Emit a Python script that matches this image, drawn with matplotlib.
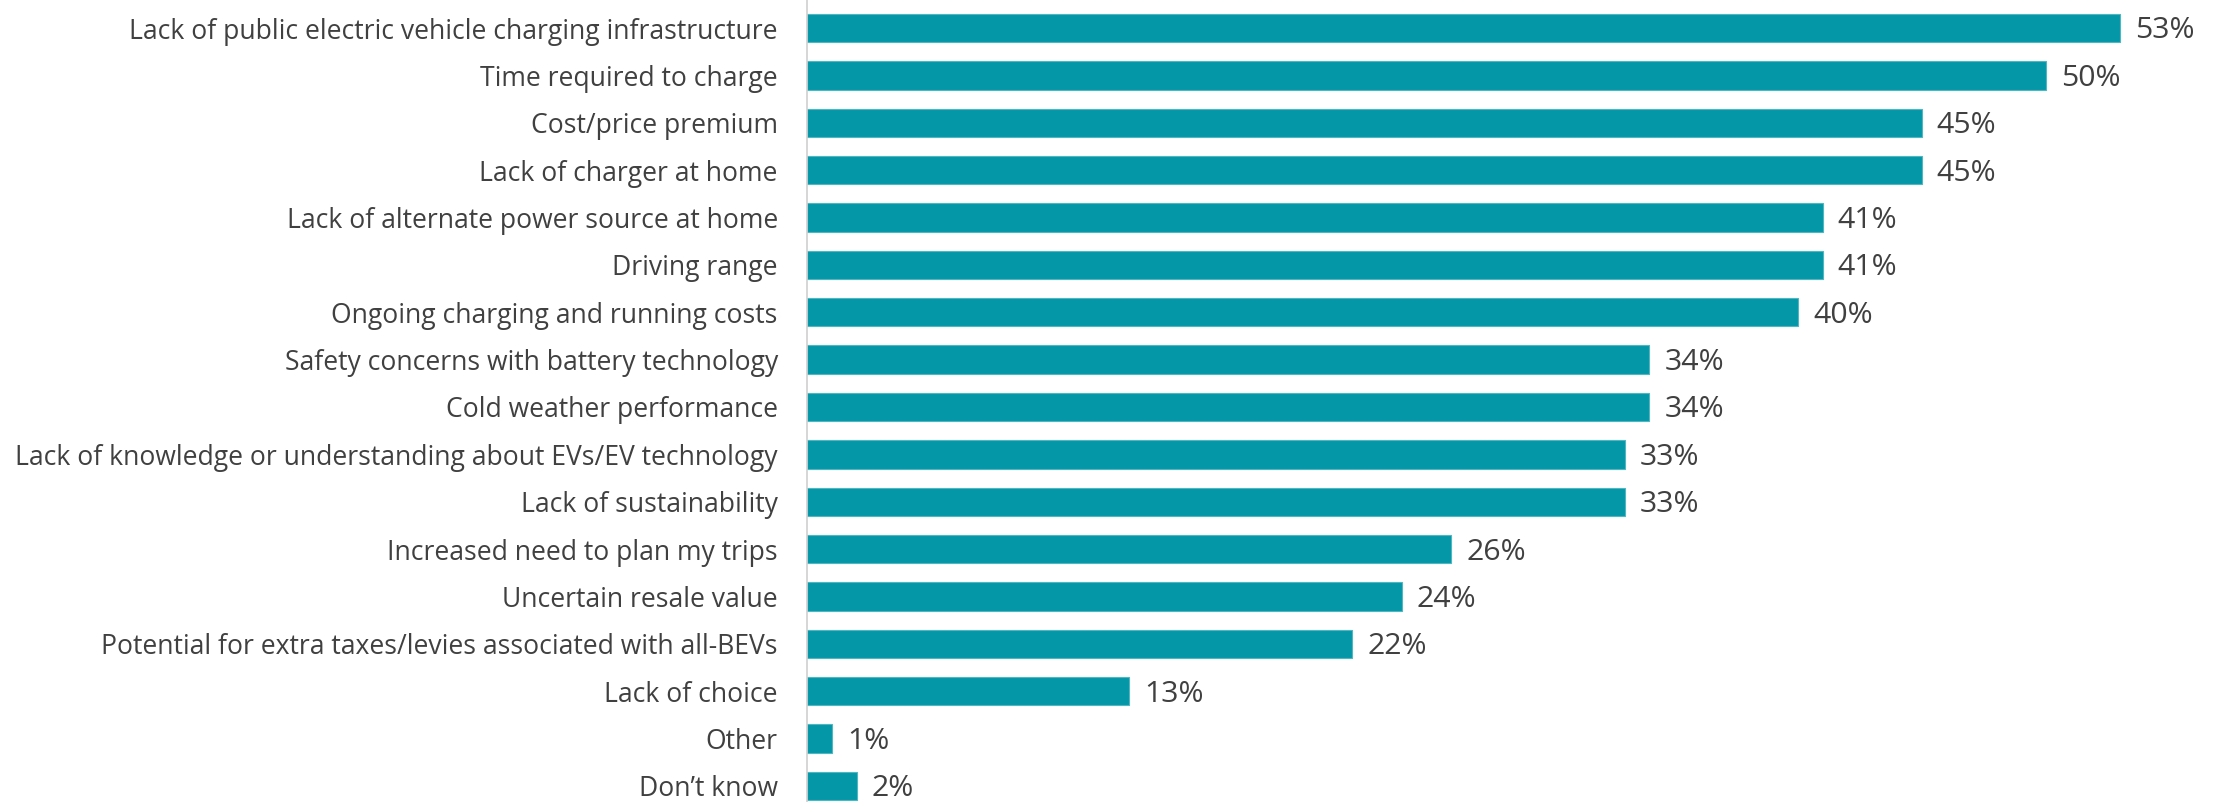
import matplotlib
matplotlib.use("Agg")
import matplotlib.pyplot as plt

categories = [
    "Lack of public electric vehicle charging infrastructure",
    "Time required to charge",
    "Cost/price premium",
    "Lack of charger at home",
    "Lack of alternate power source at home",
    "Driving range",
    "Ongoing charging and running costs",
    "Safety concerns with battery technology",
    "Cold weather performance",
    "Lack of knowledge or understanding about EVs/EV technology",
    "Lack of sustainability",
    "Increased need to plan my trips",
    "Uncertain resale value",
    "Potential for extra taxes/levies associated with all-BEVs",
    "Lack of choice",
    "Other",
    "Don\u2019t know",
]
values = [53, 50, 45, 45, 41, 41, 40, 34, 34, 33, 33, 26, 24, 22, 13, 1, 2]

BAR_COLOR = "#0397A8"
TEXT_COLOR = "#404040"

plt.rcParams["font.family"] = ["Open Sans", "DejaVu Sans"]

W, H = 2217, 802
fig = plt.figure(figsize=(W / 100, H / 100), dpi=100)
ax_left = 807 / W
ax = fig.add_axes([ax_left, 0, 1 - ax_left, 1])

pos = list(range(len(categories)))
ax.barh(pos, values, height=0.6, color=BAR_COLOR, edgecolor="#4FB6C2", linewidth=0.8)

ax.set_xlim(0, 53 * (W - 807) / (2120 - 807))
row = 47.375
ax.set_ylim(16 + (H - 786) / row, -28 / row)

ax.set_yticks(pos)
ax.set_yticklabels(categories, fontsize=19.1, color=TEXT_COLOR)
ax.tick_params(axis="y", length=0, pad=21)
ax.set_xticks([])

for spine in ["top", "right", "bottom"]:
    ax.spines[spine].set_visible(False)
ax.spines["left"].set_color("#D0D0D0")
ax.spines["left"].set_linewidth(1.2)

for p, v in zip(pos, values):
    ax.annotate(f"{v}%", xy=(v, p), xytext=(15, -3), textcoords="offset pixels",
                va="center", ha="left", fontsize=21.8, color=TEXT_COLOR)

fig.savefig("out.png", dpi=100, facecolor="white")
